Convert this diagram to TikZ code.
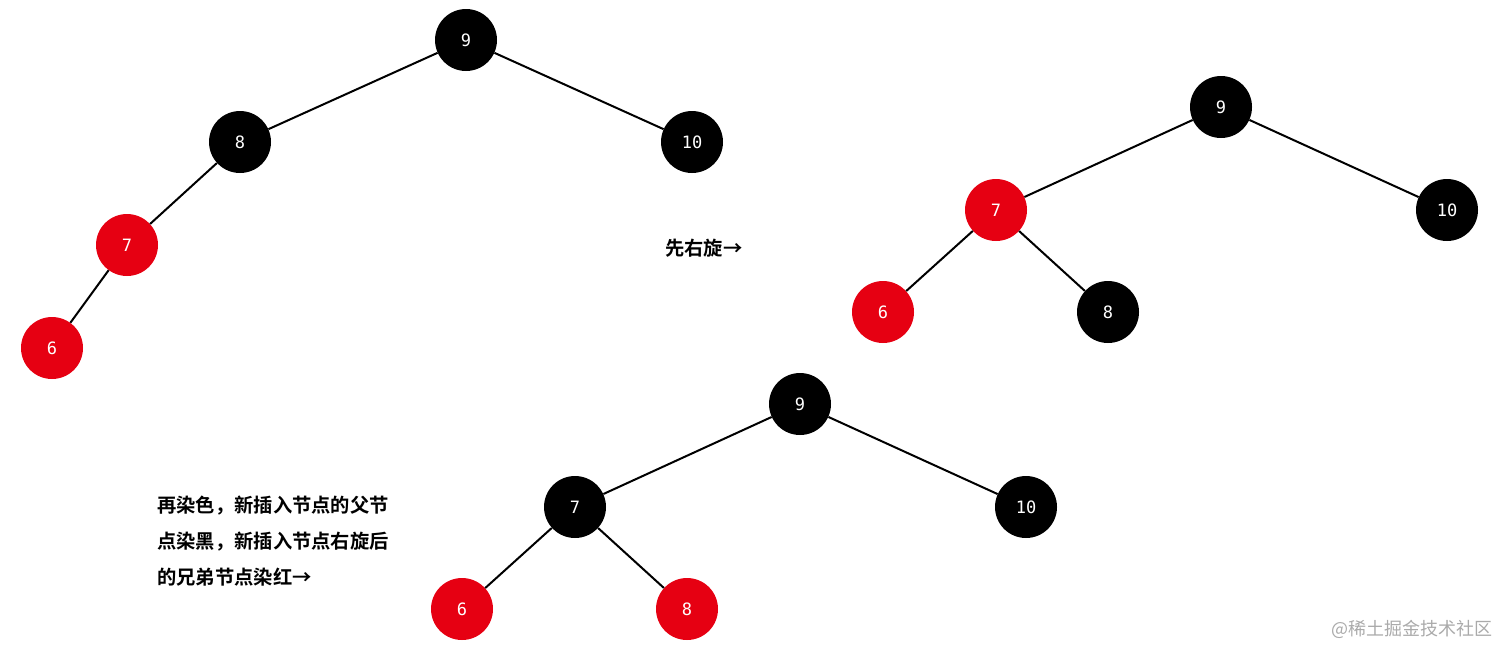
\documentclass[tikz,border=0pt]{standalone}
\usepackage{fontspec}
\newfontfamily\cjk{Noto Sans CJK SC}[BoldFont={* Bold}]
\newfontfamily\nummono{DejaVu Sans Mono}
\definecolor{rbred}{RGB}{230,0,18}
\definecolor{wmgray}{RGB}{170,170,170}
\begin{document}
\begin{tikzpicture}[x=1pt,y=-1pt,
  bn/.style={circle,fill=black,minimum size=62pt,inner sep=0pt,text=white,font=\nummono\fontsize{17}{17}\selectfont},
  rn/.style={circle,fill=rbred,minimum size=62pt,inner sep=0pt,text=white,font=\nummono\fontsize{17}{17}\selectfont},
  edge/.style={line width=2pt,black},
  note/.style={font=\cjk\bfseries\fontsize{19.3}{36}\selectfont,anchor=west,align=left,inner sep=0pt}]
\useasboundingbox (0,0) rectangle (1512,659);
% tree 1
\node[bn] (a9) at (466,40) {9};
\node[bn] (a8) at (240,142) {8};
\node[bn] (a10) at (692,142) {10};
\node[rn] (a7) at (127,245) {7};
\node[rn] (a6) at (52,348) {6};
% tree 2
\node[bn] (b9) at (1221,107) {9};
\node[rn] (b7) at (996,210) {7};
\node[bn] (b10) at (1447,210) {10};
\node[rn] (b6) at (883,312) {6};
\node[bn] (b8) at (1108,312) {8};
% tree 3
\node[bn] (c9) at (800,404) {9};
\node[bn] (c7) at (575,507) {7};
\node[bn] (c10) at (1026,507) {10};
\node[rn] (c6) at (462,609) {6};
\node[rn] (c8) at (687,609) {8};
\draw[edge] (a9) -- (a8);
\draw[edge] (a9) -- (a10);
\draw[edge] (a8) -- (a7);
\draw[edge] (a7) -- (a6);
\draw[edge] (b9) -- (b7);
\draw[edge] (b9) -- (b10);
\draw[edge] (b7) -- (b6);
\draw[edge] (b7) -- (b8);
\draw[edge] (c9) -- (c7);
\draw[edge] (c9) -- (c10);
\draw[edge] (c7) -- (c6);
\draw[edge] (c7) -- (c8);
% labels
\node[note] (t1) at (665,248) {先右旋→};
\node[note] (t2) at (157,541) {再染色，新插入节点的父节\\点染黑，新插入节点右旋后\\的兄弟节点染红→};
\node[font=\cjk\fontsize{18}{18}\selectfont,text=wmgray,anchor=east,inner sep=0pt] (wm) at (1493,629) {@稀土掘金技术社区};
\end{tikzpicture}
\end{document}
